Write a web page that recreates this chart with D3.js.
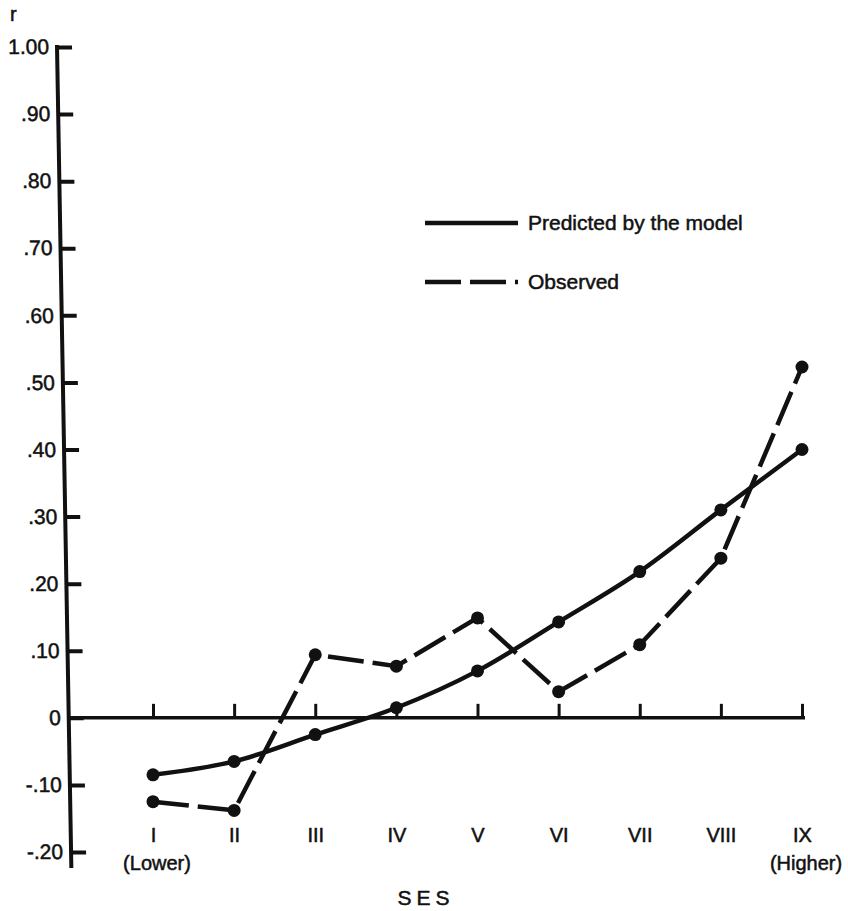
<html>
  <head>
    <title>SES and r</title>
    <script src="https://d3js.org/d3.v7.min.js"></script>
    <style>
      body{margin:0;background:#fff;}
      text{font-family:"Liberation Sans",Arial,sans-serif;fill:#111;stroke:#111;stroke-width:0.5px;}
    </style>
  </head>
  <body>
    <script>
      // data
      var categories=["I","II","III","IV","V","VI","VII","VIII","IX"];
      var subLabels=["(Lower)","","","","","","","","(Higher)"];
      var predicted=[-0.085,-0.065,-0.025,0.015,0.07,0.143,0.218,0.31,0.40];
      var observed=[-0.125,-0.138,0.094,0.077,0.149,0.039,0.109,0.238,0.523];
      var yTicks=[1.0,0.9,0.8,0.7,0.6,0.5,0.4,0.3,0.2,0.1,0,-0.1,-0.2];
      var yTickLabels=["1.00",".90",".80",".70",".60",".50",".40",".30",".20",".10","0","-.10","-.20"];
      var legendNames=["Predicted by the model","Observed"];

      var W=848,H=911;
      var ink="#111";
      var dash="36,9";
      var fontStack='"Liberation Sans",Arial,sans-serif';

      var svg=d3.select('body').append('svg')
                .attr('width',W)
                .attr('height',H);

      var x=d3.scalePoint().domain(categories).range([153,802]);
      var y=d3.scaleLinear().domain([-0.2,1.0]).range([852,47]);

      // y axis (the scanned axis leans about one degree)
      var yAxisG=svg.append('g')
                    .attr('transform','translate(56.2,0) skewX(1)');
      yAxisG.call(d3.axisLeft(y)
                    .tickValues(yTicks)
                    .tickFormat(function(d,i){return yTickLabels[i];})
                    .tickSize(-15)
                    .tickSizeOuter(0)
                    .tickPadding(8));
      yAxisG.select('.domain').remove();
      yAxisG.selectAll('.tick line').attr('stroke',ink).attr('stroke-width',4);
      yAxisG.selectAll('.tick text').attr('font-size',21).style('font-family',fontStack);
      yAxisG.append('line')
            .attr('x1',0).attr('x2',0)
            .attr('y1',y(1.0)-2).attr('y2',y(-0.2)+16)
            .attr('stroke',ink).attr('stroke-width',4);

      // "r" axis title
      svg.append('text').attr('x',10).attr('y',21).attr('font-size',20).text('r');

      // x axis on zero line
      var xAxisG=svg.append('g').attr('transform','translate(0,'+y(0)+')');
      xAxisG.call(d3.axisBottom(x).tickSize(-14).tickSizeOuter(0).tickFormat(''));
      xAxisG.select('.domain').remove();
      xAxisG.selectAll('.tick line').attr('stroke',ink).attr('stroke-width',3);
      xAxisG.append('line')
            .attr('x1',56.2+y(0)*Math.tan(Math.PI/180)).attr('x2',x('IX')+3)
            .attr('y1',0).attr('y2',0)
            .attr('stroke',ink).attr('stroke-width',3.5);

      // category labels along the bottom
      var labG=svg.append('g').attr('transform','translate(0,828)');
      labG.call(d3.axisBottom(x).tickSize(0).tickPadding(0));
      labG.select('.domain').remove();
      labG.selectAll('.tick text').attr('font-size',20).attr('dy','0.71em').style('font-family',fontStack);

      svg.selectAll('.sub')
         .data(categories)
         .enter().append('text')
         .attr('class','sub')
         .attr('x',function(d){return x(d)+4;})
         .attr('y',870)
         .attr('text-anchor','middle')
         .attr('font-size',20)
         .text(function(d,i){return subLabels[i];});

      svg.append('text')
         .attr('x',426).attr('y',905)
         .attr('text-anchor','middle')
         .attr('font-size',21)
         .attr('letter-spacing',5)
         .text('SES');

      // lines
      var predLine=d3.line()
                     .x(function(d,i){return x(categories[i]);})
                     .y(function(d){return y(d);})
                     .curve(d3.curveMonotoneX);
      var obsLine=d3.line()
                    .x(function(d,i){return x(categories[i]);})
                    .y(function(d){return y(d);});

      svg.append('path').datum(predicted)
         .attr('d',predLine)
         .attr('fill','none').attr('stroke',ink).attr('stroke-width',4.5);
      svg.append('path').datum(observed)
         .attr('d',obsLine)
         .attr('fill','none').attr('stroke',ink).attr('stroke-width',4.5)
         .attr('stroke-dasharray',dash);

      [predicted,observed].forEach(function(series){
        svg.append('g').selectAll('circle')
           .data(series)
           .enter().append('circle')
           .attr('cx',function(d,i){return x(categories[i]);})
           .attr('cy',function(d){return y(d);})
           .attr('r',6.5)
           .attr('fill',ink);
      });

      // legend
      var legY=[223,282];
      legendNames.forEach(function(name,i){
        svg.append('line')
           .attr('x1',425).attr('x2',518)
           .attr('y1',legY[i]).attr('y2',legY[i])
           .attr('stroke',ink).attr('stroke-width',4.5)
           .attr('stroke-dasharray',i==1?dash:null);
        svg.append('text')
           .attr('x',528).attr('y',legY[i]+7)
           .attr('font-size',21)
           .text(name);
      });
    </script>
  </body>
</html>
